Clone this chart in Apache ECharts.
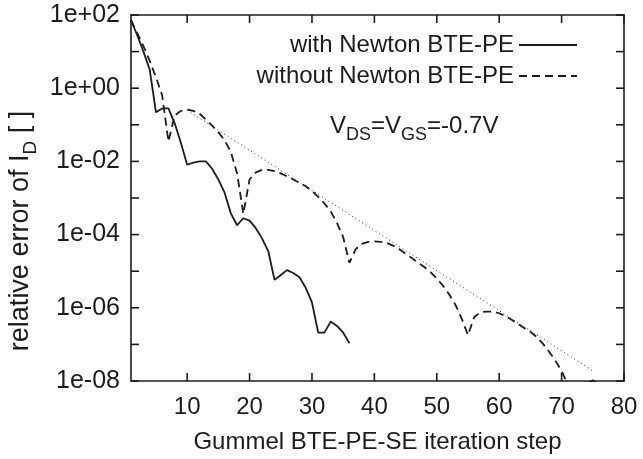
<!DOCTYPE html>
<html>
<head>
<meta charset="utf-8">
<script src="https://cdn.jsdelivr.net/npm/echarts@6/dist/echarts.min.js"></script>
<style>
  html, body { margin: 0; padding: 0; background: #ffffff; }
  #chart { width: 643px; height: 459px; }
</style>
</head>
<body>
<div id="chart"></div>
<script>
// Gummel iteration steps and relative error of the drain current
const stepsNewton = [1, 2, 3, 4, 5, 6, 7, 8, 9, 10, 11, 12, 13, 14, 15, 16, 17, 18,
  19, 20, 21, 22, 23, 24, 25, 26, 27, 28, 29, 30, 31, 32, 33, 34, 35, 36];
const errNewton = [7.2e1, 2.8e1, 1.0e1, 3.2e0, 2.2e-1, 2.8e-1, 2.8e-1, 1.1e-1, 3.2e-2, 8.1e-3,
  9.3e-3, 1.0e-2, 1.0e-2, 6.3e-3, 3.2e-3, 1.4e-3, 3.8e-4, 1.8e-4, 2.8e-4, 2.4e-4,
  1.5e-4, 7.9e-5, 3.5e-5, 5.8e-6, 7.9e-6, 1.07e-5, 8.9e-6, 6.8e-6, 3.5e-6, 1.4e-6,
  2.1e-7, 2.1e-7, 4.2e-7, 3.2e-7, 2.1e-7, 1.07e-7];

const stepsPlain = [1, 2, 3, 4, 5, 6, 7, 8, 9, 10, 11, 12, 13, 14, 15, 16, 17, 18, 19, 20,
  21, 22, 23, 24, 25, 26, 27, 28, 29, 30, 31, 32, 33, 34, 35, 36, 37, 38, 39, 40,
  41, 42, 43, 44, 45, 46, 47, 48, 49, 50, 51, 52, 53, 54, 55, 56, 57, 58, 59, 60,
  61, 62, 63, 64, 65, 66, 67, 68, 69, 70, 71, 72, 73, 74, 75, 76];
const errPlain = [7.2e1, 3.2e1, 1.4e1, 5.6e0, 2.0e0, 6.3e-1, 3.5e-2, 1.8e-1, 2.4e-1, 2.6e-1,
  2.4e-1, 2.0e-1, 1.4e-1, 9.5e-2, 6.3e-2, 3.8e-2, 1.8e-2, 4.7e-3, 3.7e-4, 3.2e-3,
  5.0e-3, 5.9e-3, 5.9e-3, 5.4e-3, 4.7e-3, 3.9e-3, 3.2e-3, 2.6e-3, 2.1e-3, 1.55e-3,
  1.07e-3, 7.1e-4, 4.3e-4, 2.1e-4, 8.5e-5, 1.7e-5, 4.0e-5, 5.6e-5, 6.3e-5, 6.5e-5,
  6.3e-5, 5.9e-5, 5.0e-5, 4.0e-5, 3.0e-5, 2.3e-5, 1.7e-5, 1.3e-5, 9.5e-6, 6.3e-6,
  4.0e-6, 2.3e-6, 1.2e-6, 5.0e-7, 1.8e-7, 5.6e-7, 7.6e-7, 7.9e-7, 7.9e-7, 7.1e-7,
  5.9e-7, 4.7e-7, 3.6e-7, 2.8e-7, 2.2e-7, 1.6e-7, 1.05e-7, 6.3e-8, 3.6e-8, 1.9e-8,
  7.9e-9, 3.2e-9, 5.0e-9, 8.3e-9, 1.05e-8, 7.9e-9];

// straight reference slope line (dotted)
const stepsSlope = [10, 75];
const errSlope = [2.5e-1, 1.9e-8];

const seriesNames = ['with Newton BTE-PE', 'without Newton BTE-PE'];

const xTickValues = [10, 20, 30, 40, 50, 60, 70, 80];
const yTickValues = [1e-8, 1e-7, 1e-6, 1e-5, 1e-4, 1e-3, 1e-2, 1e-1, 1e0, 1e1, 1e2];
const yLabelValues = [1e-8, 1e-6, 1e-4, 1e-2, 1e0, 1e2];
const yLabelTexts = ['1e-08', '1e-06', '1e-04', '1e-02', '1e+00', '1e+02'];

const X_MIN = 1, X_MAX = 80, Y_MIN = 1e-8, Y_MAX = 1e2;

const FONT = '"Liberation Sans", Arial, Helvetica, sans-serif';
const INK = '#1c1c1c';
const FS = 24;
const TICK = 8;

const pairs = (xs, ys) => xs.map((x, i) => [x, ys[i]]);
const yLabelFor = v => {
  const e = Math.round(Math.log10(v));
  const i = yLabelValues.findIndex(t => Math.round(Math.log10(t)) === e);
  return i < 0 ? '' : yLabelTexts[i];
};

const frameLine = { show: true, lineStyle: { color: INK, width: 1.6 } };
const tickStroke = { stroke: INK, lineWidth: 1.6 };

// inward tick marks on all four sides of the frame, placed through the axes' scales
const frameTicksX = (params, api) => {
  const v = api.value(0);
  const bottom = api.coord([v, Y_MIN]);
  const top = api.coord([v, Y_MAX]);
  return {
    type: 'group',
    children: [
      { type: 'line', shape: { x1: bottom[0], y1: bottom[1], x2: bottom[0], y2: bottom[1] - TICK }, style: tickStroke },
      { type: 'line', shape: { x1: top[0], y1: top[1], x2: top[0], y2: top[1] + TICK }, style: tickStroke }
    ]
  };
};
const frameTicksY = (params, api) => {
  const v = api.value(1);
  const left = api.coord([X_MIN, v]);
  const right = api.coord([X_MAX, v]);
  return {
    type: 'group',
    children: [
      { type: 'line', shape: { x1: left[0], y1: left[1], x2: left[0] + TICK, y2: left[1] }, style: tickStroke },
      { type: 'line', shape: { x1: right[0], y1: right[1], x2: right[0] - TICK, y2: right[1] }, style: tickStroke }
    ]
  };
};

const chart = echarts.init(document.getElementById('chart'), null, { renderer: 'canvas' });

chart.setOption({
  animation: false,
  backgroundColor: '#ffffff',
  textStyle: { fontFamily: FONT, color: INK },
  grid: { left: 131, right: 19, top: 15, bottom: 78 },
  xAxis: [
    {
      type: 'value', min: X_MIN, max: X_MAX, position: 'bottom',
      axisLine: frameLine,
      axisTick: { show: false },
      axisLabel: { show: true, customValues: xTickValues, fontSize: FS, color: INK, fontFamily: FONT, margin: 14 },
      splitLine: { show: false },
      name: 'Gummel BTE-PE-SE iteration step',
      nameLocation: 'middle', nameGap: 49,
      nameTextStyle: { fontSize: FS, color: INK, fontFamily: FONT }
    },
    {
      type: 'value', min: X_MIN, max: X_MAX, position: 'top',
      axisLine: frameLine,
      axisTick: { show: false },
      axisLabel: { show: false },
      splitLine: { show: false }
    }
  ],
  yAxis: [
    {
      type: 'log', logBase: 10, min: Y_MIN, max: Y_MAX, position: 'left',
      axisLine: frameLine,
      axisTick: { show: false },
      axisLabel: {
        show: true, customValues: yLabelValues, hideOverlap: false,
        fontSize: 25, color: INK, fontFamily: FONT, margin: 11,
        formatter: yLabelFor
      },
      splitLine: { show: false }
    },
    {
      type: 'log', logBase: 10, min: Y_MIN, max: Y_MAX, position: 'right',
      axisLine: frameLine,
      axisTick: { show: false },
      axisLabel: { show: false },
      splitLine: { show: false }
    }
  ],
  legend: {
    data: seriesNames,
    orient: 'vertical', align: 'right',
    right: 60, top: 28,
    itemWidth: 58, itemHeight: 14, itemGap: 7,
    itemStyle: { opacity: 0 },
    textStyle: { fontSize: FS, color: INK, fontFamily: FONT, padding: [0, 0, 4, 0] }
  },
  graphic: [
    {
      type: 'text', left: 330, top: 114, silent: true,
      style: {
        text: '{v|V}{s|DS}{v|=V}{s|GS}{v|=-0.7V}',
        fill: INK,
        rich: {
          v: { fontSize: FS, fontFamily: FONT, fill: INK, lineHeight: 36 },
          s: { fontSize: 18, fontFamily: FONT, fill: INK, verticalAlign: 'bottom', lineHeight: 18 }
        }
      }
    },
    {
      type: 'text', x: 21, y: 231, rotation: Math.PI / 2, silent: true,
      style: {
        text: '{m|relative error of I}{s|D}{m| [ ]}',
        fill: INK, align: 'center', verticalAlign: 'middle',
        rich: {
          m: { fontSize: 27, fontFamily: FONT, fill: INK, lineHeight: 38 },
          s: { fontSize: 19, fontFamily: FONT, fill: INK, verticalAlign: 'bottom', lineHeight: 19 }
        }
      }
    }
  ],
  series: [
    {
      name: seriesNames[0], type: 'line', symbol: 'none',
      data: pairs(stepsNewton, errNewton),
      lineStyle: { color: INK, width: 1.8, type: 'solid' },
      itemStyle: { color: INK }
    },
    {
      name: seriesNames[1], type: 'line', symbol: 'none',
      data: pairs(stepsPlain, errPlain),
      lineStyle: { color: INK, width: 1.8, type: [8, 5] },
      itemStyle: { color: INK }
    },
    {
      name: 'slope', type: 'line', symbol: 'none', silent: true,
      data: pairs(stepsSlope, errSlope),
      lineStyle: { color: '#333333', width: 1, type: [1, 3] },
      itemStyle: { color: '#333333' }
    },
    {
      name: 'x ticks', type: 'custom', silent: true, clip: false, z: 5,
      data: xTickValues.map(v => [v, Y_MIN]),
      renderItem: frameTicksX
    },
    {
      name: 'y ticks', type: 'custom', silent: true, clip: false, z: 5,
      data: yTickValues.map(v => [X_MIN, v]),
      renderItem: frameTicksY
    }
  ]
});
</script>
</body>
</html>
